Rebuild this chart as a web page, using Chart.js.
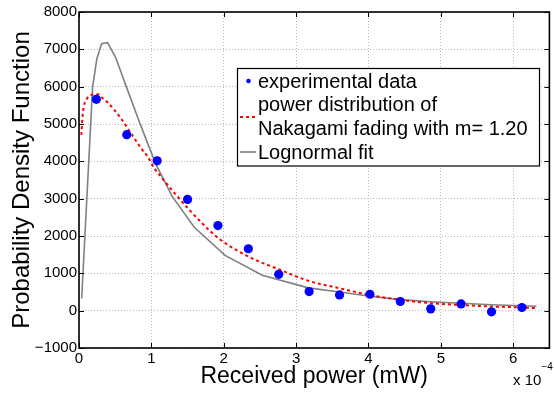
<!DOCTYPE html>
<html><head><meta charset="utf-8">
<script src="https://cdn.jsdelivr.net/npm/chart.js@4/dist/chart.umd.min.js"></script>
<style>html,body{margin:0;padding:0;background:#fff}canvas{display:block}</style>
</head><body>
<canvas id="c" width="554" height="393"></canvas>
<script>
// x values in units of 1e-4 mW (axis shows "x 10^-4")
const xTickValues = [0, 1, 2, 3, 4, 5, 6];
const yTickValues = [-1000, 0, 1000, 2000, 3000, 4000, 5000, 6000, 7000, 8000];

const expX = [0.24, 0.66, 1.08, 1.50, 1.92, 2.34, 2.76, 3.18, 3.60, 4.02, 4.44, 4.86, 5.28, 5.70, 6.12];
const expY = [5660, 4715, 4013, 2981, 2280, 1659, 973, 512, 421, 440, 245, 48, 181, -32, 85];

const nakX = [0.032, 0.055, 0.10, 0.169, 0.261, 0.33, 0.40, 0.49, 0.58, 0.673, 0.765, 0.856, 0.948, 1.04, 1.13, 1.50, 1.92, 2.34, 2.757, 3.17, 3.60, 4.02, 4.44, 4.86, 5.28, 5.70, 6.12, 6.32];
const nakY = [4707, 5328, 5640, 5773, 5800, 5685, 5568, 5373, 5152, 4885, 4619, 4352, 4128, 3819, 3595, 2752, 1952, 1450, 1110, 800, 600, 420, 290, 200, 150, 112, 85, 70];

const logX = [0.037, 0.188, 0.247, 0.312, 0.394, 0.504, 0.655, 0.815, 0.966, 1.067, 1.287, 1.593, 2.019, 2.532, 3.17, 3.60, 4.02, 4.44, 4.86, 5.28, 5.70, 6.12, 6.32];
const logY = [325, 5995, 6747, 7152, 7179, 6795, 5995, 5152, 4395, 3907, 3061, 2235, 1480, 947, 610, 500, 385, 295, 240, 200, 160, 130, 118];

const legendLabels = ['experimental data', 'power distribution of', 'Nakagami fading with m= 1.20', 'Lognormal fit'];
const xLabel = 'Received power (mW)';
const yLabel = 'Probability Density Function';
const xExponentBase = 'x 10';
const xExponent = '\u22124';

const FONT = '"Liberation Sans", Arial, Helvetica, sans-serif';
const toXY = (xs, ys) => xs.map((x, i) => ({x, y: ys[i]}));

const decorPlugin = {
  id: 'decor',
  afterDatasetsDraw(chart) {
    const {ctx, chartArea: a, scales: {x, y}} = chart;
    ctx.save();
    // inward ticks
    ctx.strokeStyle = '#000';
    ctx.lineWidth = 1;
    ctx.beginPath();
    xTickValues.forEach(v => {
      const px = Math.round(x.getPixelForValue(v)) + 0.5;
      ctx.moveTo(px, a.bottom); ctx.lineTo(px, a.bottom - 5);
      ctx.moveTo(px, a.top); ctx.lineTo(px, a.top + 5);
    });
    yTickValues.forEach(v => {
      const py = Math.round(y.getPixelForValue(v)) + 0.5;
      ctx.moveTo(a.left, py); ctx.lineTo(a.left + 5, py);
      ctx.moveTo(a.right, py); ctx.lineTo(a.right - 5, py);
    });
    ctx.stroke();
    // frame
    ctx.lineWidth = 1.6;
    ctx.strokeRect(a.left, a.top, a.right - a.left, a.bottom - a.top);

    // legend
    const lx = 237.5, ly = 68.5, lw = 302, lh = 97.5;
    ctx.fillStyle = '#fff';
    ctx.fillRect(lx, ly, lw, lh);
    ctx.lineWidth = 1.2;
    ctx.strokeStyle = '#000';
    ctx.strokeRect(lx, ly, lw, lh);
    ctx.font = '20px ' + FONT;
    ctx.fillStyle = '#000';
    ctx.textBaseline = 'middle';
    ctx.textAlign = 'left';
    const rows = [82, 105.5, 129.5, 153];
    legendLabels.forEach((t, i) => ctx.fillText(t, 258, rows[i]));
    // markers
    ctx.fillStyle = '#0000ff';
    ctx.beginPath(); ctx.arc(248.5, 81, 2.3, 0, Math.PI * 2); ctx.fill();
    ctx.strokeStyle = '#ff0000'; ctx.lineWidth = 2; ctx.setLineDash([3, 3]);
    ctx.beginPath(); ctx.moveTo(240, 117); ctx.lineTo(256, 117); ctx.stroke();
    ctx.setLineDash([]);
    ctx.strokeStyle = '#808080'; ctx.lineWidth = 1.6;
    ctx.beginPath(); ctx.moveTo(240, 152); ctx.lineTo(256, 152); ctx.stroke();

    // exponent label
    ctx.fillStyle = '#000';
    ctx.textBaseline = 'alphabetic';
    ctx.font = '15px ' + FONT;
    ctx.fillText(xExponentBase, 513, 385);
    ctx.font = '10px ' + FONT;
    ctx.fillText(xExponent, 541.5, 370);
    ctx.restore();
  }
};

new Chart(document.getElementById('c'), {
  type: 'line',
  data: {
    datasets: [
      {
        label: legendLabels[0],
        data: toXY(expX, expY),
        showLine: false,
        pointRadius: 4.6,
        pointBorderWidth: 0,
        pointBackgroundColor: '#0000ff',
        borderColor: '#0000ff',
        backgroundColor: '#0000ff'
      },
      {
        label: legendLabels[1] + ' ' + legendLabels[2],
        data: toXY(nakX, nakY),
        borderColor: '#ff0000',
        borderWidth: 2,
        borderDash: [3, 3],
        pointRadius: 0,
        cubicInterpolationMode: 'monotone',
        fill: false
      },
      {
        label: legendLabels[3],
        data: toXY(logX, logY),
        borderColor: '#808080',
        borderWidth: 1.6,
        pointRadius: 0,
        tension: 0,
        fill: false
      }
    ]
  },
  options: {
    responsive: false,
    animation: false,
    devicePixelRatio: 1,
    layout: {padding: {top: 12, right: 1, left: 0, bottom: 0}},
    plugins: {legend: {display: false}, tooltip: {enabled: false}},
    scales: {
      x: {
        type: 'linear',
        min: 0, max: 6.5,
        afterFit: s => { s.height = 45; },
        afterBuildTicks: s => { s.ticks = xTickValues.map(v => ({value: v})); },
        ticks: {
          font: {size: 15, family: FONT}, color: '#000', padding: 2,
          maxRotation: 0, autoSkip: false,
          callback: v => String(v)
        },
        grid: {color: '#b8b8b8', drawTicks: false, lineWidth: 1},
        border: {display: false, dash: [1, 2]},
        title: {display: true, text: xLabel, color: '#000', font: {size: 23, family: FONT}, padding: {top: 0, bottom: 3}}
      },
      y: {
        type: 'linear',
        min: -1000, max: 8000,
        afterFit: s => { s.width = 79; },
        afterBuildTicks: s => { s.ticks = yTickValues.map(v => ({value: v})); },
        ticks: {
          font: {size: 15, family: FONT}, color: '#000', padding: 2, autoSkip: false,
          callback: v => (v < 0 ? '\u2212' + Math.abs(v) : String(v))
        },
        grid: {color: '#b8b8b8', drawTicks: false, lineWidth: 1},
        border: {display: false, dash: [1, 2]},
        title: {display: true, text: yLabel, color: '#000', font: {size: 24, family: FONT}, padding: {top: 8, bottom: 0}}
      }
    }
  },
  plugins: [decorPlugin]
});
</script>
</body></html>
